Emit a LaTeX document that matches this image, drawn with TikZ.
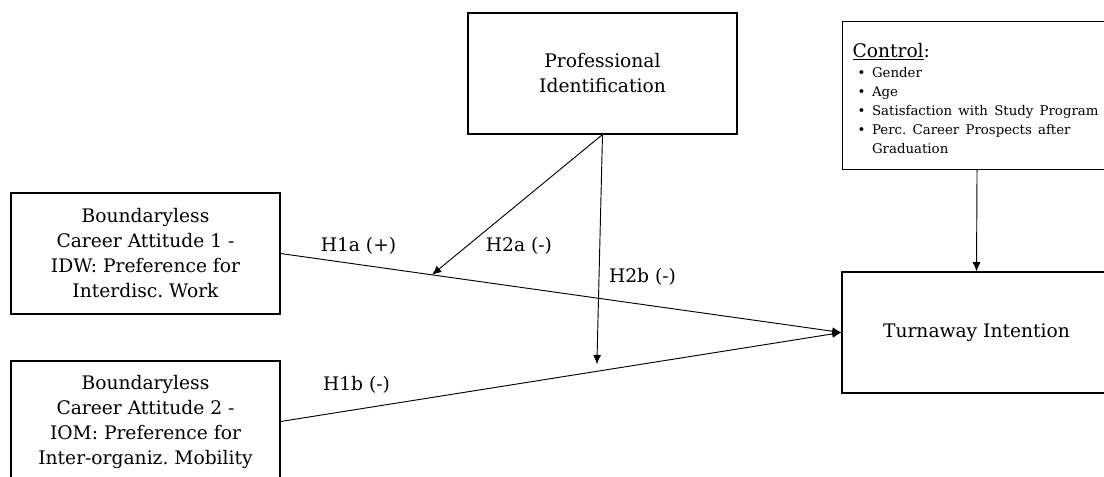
\documentclass[tikz,border=0pt]{standalone}
\usepackage{fontspec}
\setmainfont{DejaVu Serif}
\usetikzlibrary{calc,arrows.meta}

\tikzset{
	box/.style={draw, line width=0.8pt, minimum width=201.75pt, minimum height=90.75pt, inner sep=0pt, align=center, font=\fontsize{14}{18.75}\selectfont},
	link/.style={line width=0.7pt, -{Latex[length=7pt,width=6pt]}},
	hyp/.style={font=\fontsize{14}{17}\selectfont}
}

\begin{document}
\frenchspacing
\begin{tikzpicture}[x=0.75pt, y=-0.75pt]
			%%%%% START %%%%%
			\useasboundingbox (0, 0) rectangle (1104, 476);
			
			\node[box] (idw) at (145.5, 253.5) {Boundaryless\\Career Attitude 1 -\\IDW: Preference for\\Interdisc. Work};
			\node[box] (iom) at (145.5, 421.5) {Boundaryless\\Career Attitude 2 -\\IOM: Preference for\\Inter-organiz. Mobility};
			\node[box] (prof) at (602.5, 73.5) {Professional\\Identification};
			\node[box] (turn) at (976.5, 332.5) {Turnaway Intention};
			
			\node[box, anchor=north west, minimum height=111pt, align=left, text width=186.75pt, inner xsep=7.5pt] (ctrl) at (842, 21) {\rule{0pt}{19pt}\underline{Control}:\\[2pt]
				\fontsize{10}{14.25}\selectfont
				\begin{tabular}{@{\hspace{3.75pt}}l@{\hspace{5pt}}l@{}}
					\textbullet & Gender\\
					\textbullet & Age\\
					\textbullet & Satisfaction with Study Program\\
					\textbullet & Perc. Career Prospects after\\
					 & Graduation
				\end{tabular}};
			
			\coordinate (m2a) at ($(idw.east)!0.27!(turn.west)$);
			\coordinate (m2b) at ($(iom.east)!0.564!(turn.west)+(0, -7)$);
			
			\draw[link] (idw.east) -- (turn.west);
			\draw[link] (iom.east) -- (turn.west);
			\draw[link] (prof.south) -- (m2a);
			\draw[link] (prof.south) -- (m2b);
			\draw[link] (ctrl.south) -- (turn.north);
			
			\node[hyp] (h1a) at (358.5, 246) {H1a (+)};
			\node[hyp] (h2a) at (519, 246) {H2a (-)};
			\node[hyp] (h2b) at (642.5, 277) {H2b (-)};
			\node[hyp] (h1b) at (356.5, 385) {H1b (-)};
			
			%%%%% END %%%%%
\end{tikzpicture}
\end{document}
